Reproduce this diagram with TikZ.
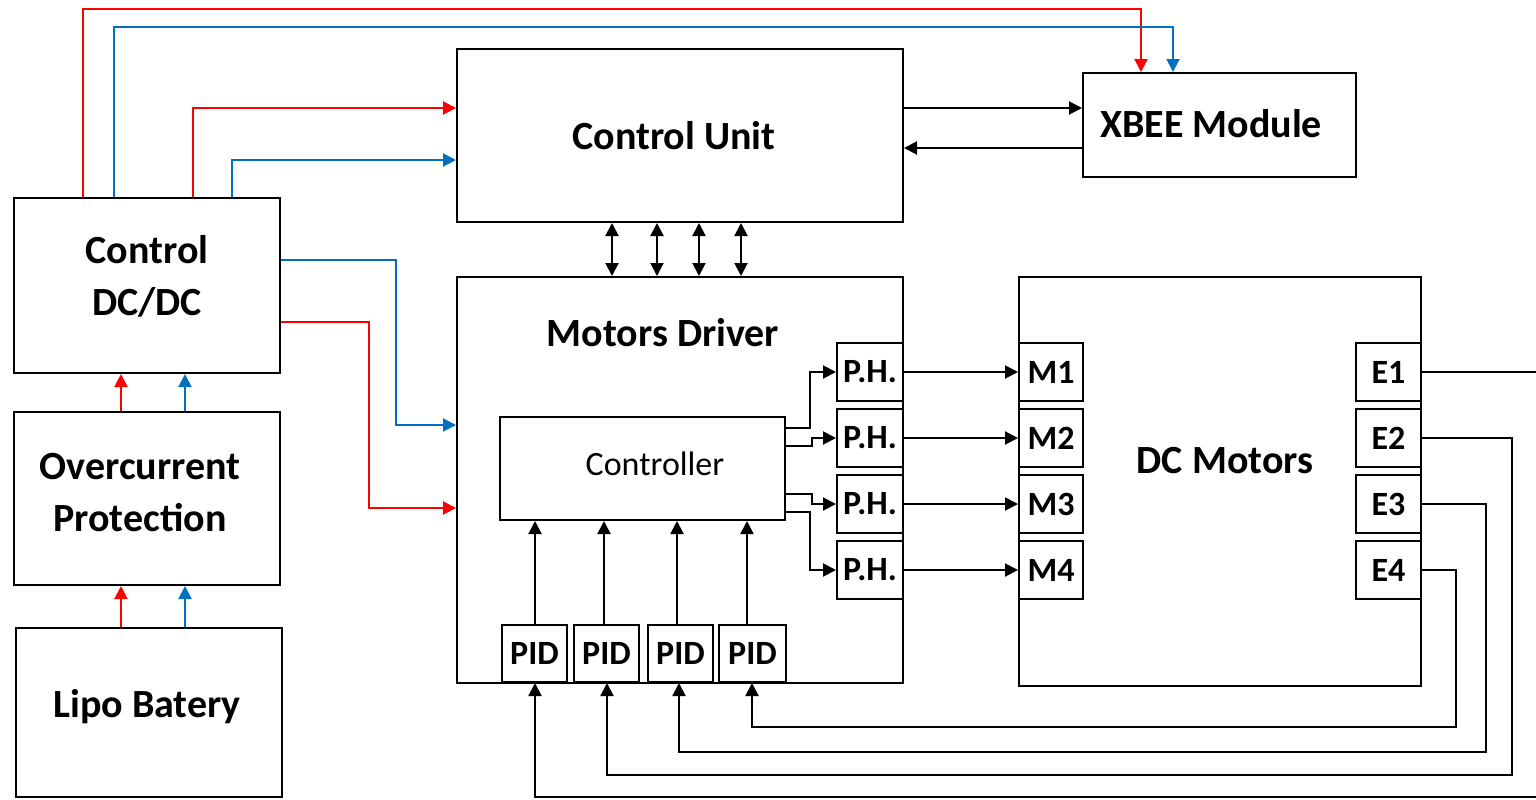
\documentclass[tikz,border=0pt]{standalone}
\usepackage{fontspec}
\setmainfont{Carlito}
\usetikzlibrary{arrows.meta,fit}
\definecolor{pred}{RGB}{255,0,0}
\definecolor{pblue}{RGB}{0,112,192}
\tikzset{
  box/.style={draw=black, line width=1pt, inner sep=0pt},
  bigtxt/.style={font=\fontsize{20pt}{26pt}\selectfont\bfseries, align=center, inner sep=0pt},
  smalltxt/.style={font=\fontsize{17pt}{20pt}\selectfont\bfseries, inner sep=0pt},
  regtxt/.style={font=\fontsize{17pt}{20pt}\selectfont, inner sep=0pt},
  arr/.style={-{Triangle[length=6.5pt,width=6.5pt]}},
  dbl/.style={{Triangle[length=6.5pt,width=6.5pt]}-{Triangle[length=6.5pt,width=6.5pt]}},
  conn/.style={line width=1pt},
}
\begin{document}
\begin{tikzpicture}[x=0.5pt,y=-0.5pt]
\useasboundingbox (0,0) rectangle (1536,799);
% big boxes
\node[box, fit={(457,49) (903,222)}] (cu) {};
\node[bigtxt] (cut) at (674,136) {Control Unit};
\node[box, fit={(1083,73) (1356,177)}] (xbee) {};
\node[bigtxt] (xbeet) at (1211,124) {XBEE Module};
\node[box, fit={(14,198) (280,373)}] (dcdc) {};
\node[bigtxt] (dcdct) at (147,276) {Control\\DC/DC};
\node[box, fit={(14,412) (280,585)}] (ocp) {};
\node[bigtxt] (ocpt) at (140,493) {Overcurrent\\Protection};
\node[box, fit={(16,628) (282,797)}] (lipo) {};
\node[bigtxt] (lipot) at (147,707) {Lipo Batery};
\node[box, fit={(457,277) (903,683)}] (md) {};
\node[bigtxt] (mdt) at (663,333) {Motors Driver};
\node[box, fit={(1019,277) (1421,686)}] (dcm) {};
\node[bigtxt] (dcmt) at (1225,461) {DC Motors};
\node[box, fit={(500,417) (785,520)}] (ctrl) {};
\node[regtxt] (ctrlt) at (655,464) {Controller};
% P.H., M, E boxes
\foreach \i/\ya/\yb in {1/343/401, 2/409/467, 3/475/533, 4/541/599} {
  \node[box, fit={(837,\ya) (903,\yb)}] (ph\i) {};
  \node[smalltxt] (pht\i) at (ph\i.center) {P.H.};
  \node[box, fit={(1019,\ya) (1083,\yb)}] (m\i) {};
  \node[smalltxt] (mt\i) at (m\i.center) {M\i};
  \node[box, fit={(1356,\ya) (1421,\yb)}] (e\i) {};
  \node[smalltxt] (et\i) at (e\i.center) {E\i};
}
% PID boxes
\foreach \i/\xa/\xb in {1/502/567, 2/574/639, 3/648/713, 4/719/786} {
  \node[box, fit={(\xa,625) (\xb,682)}] (pid\i) {};
  \node[smalltxt] (pidt\i) at (pid\i.center) {PID};
}
% power lines
\draw[conn, pred, arr] (83,0 |- dcdc.north) -- (83,9) -| (1141,0 |- xbee.north);
\draw[conn, pblue, arr] (114,0 |- dcdc.north) -- (114,27) -| (1173,0 |- xbee.north);
\draw[conn, pred, arr] (193,0 |- dcdc.north) |- (cu.west |- 0,108);
\draw[conn, pblue, arr] (232,0 |- dcdc.north) |- (cu.west |- 0,160);
\draw[conn, pblue, arr] (dcdc.east |- 0,260) -| (396,425) -- (md.west |- 0,425);
\draw[conn, pred, arr] (dcdc.east |- 0,322) -| (369,508) -- (md.west |- 0,508);
\draw[conn, pred, arr] (121,0 |- ocp.north) -- (121,0 |- dcdc.south);
\draw[conn, pblue, arr] (185,0 |- ocp.north) -- (185,0 |- dcdc.south);
\draw[conn, pred, arr] (121,0 |- lipo.north) -- (121,0 |- ocp.south);
\draw[conn, pblue, arr] (185,0 |- lipo.north) -- (185,0 |- ocp.south);
% control unit <-> xbee
\draw[conn, arr] (cu.east |- 0,108) -- (xbee.west |- 0,108);
\draw[conn, arr] (xbee.west |- 0,148) -- (cu.east |- 0,148);
% control unit <-> motors driver
\foreach \x in {612,657,699,741} {
  \draw[conn, dbl] (\x,0 |- cu.south) -- (\x,0 |- md.north);
}
% controller -> P.H.
\draw[conn, arr] (ctrl.east |- 0,428) -| (810,0 |- ph1.west) -- (ph1.west);
\draw[conn, arr] (ctrl.east |- 0,446) -| (812,0 |- ph2.west) -- (ph2.west);
\draw[conn, arr] (ctrl.east |- 0,494) -| (812,0 |- ph3.west) -- (ph3.west);
\draw[conn, arr] (ctrl.east |- 0,512) -| (810,0 |- ph4.west) -- (ph4.west);
% P.H. -> M
\foreach \i in {1,2,3,4} {
  \draw[conn, arr] (ph\i.east) -- (m\i.west);
}
% PID -> controller
\draw[conn, arr] (535,0 |- pid1.north) -- (535,0 |- ctrl.south);
\draw[conn, arr] (604,0 |- pid2.north) -- (604,0 |- ctrl.south);
\draw[conn, arr] (677,0 |- pid3.north) -- (677,0 |- ctrl.south);
\draw[conn, arr] (747,0 |- pid4.north) -- (747,0 |- ctrl.south);
% encoder feedback
\draw[conn, arr] (e1.east) -| (1545,797) -| (535,0 |- pid1.south);
\draw[conn, arr] (e2.east) -| (1512,775) -| (607,0 |- pid2.south);
\draw[conn, arr] (e3.east) -| (1486,752) -| (679,0 |- pid3.south);
\draw[conn, arr] (e4.east) -| (1456,727) -| (752,0 |- pid4.south);
\end{tikzpicture}
\end{document}
